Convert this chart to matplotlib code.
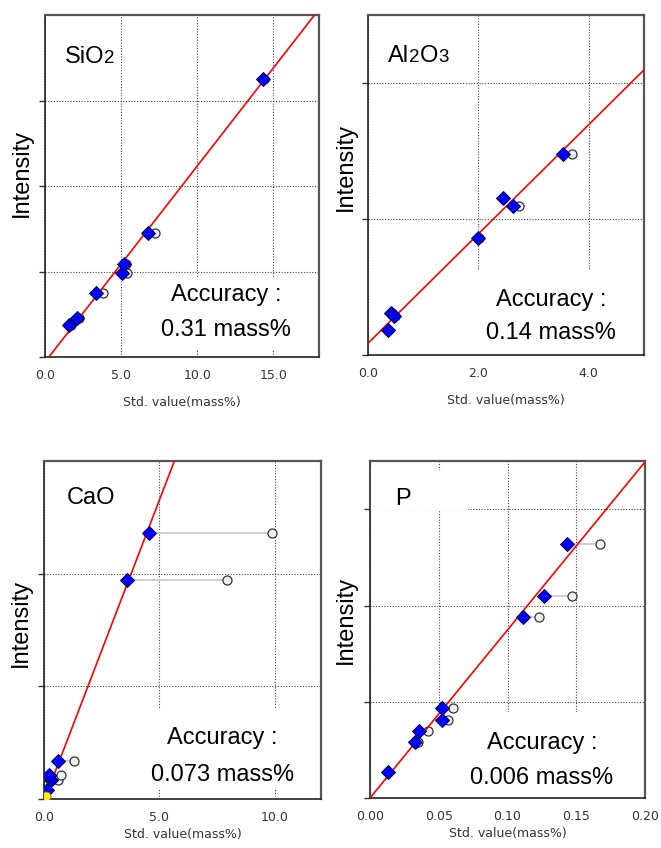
import numpy as np
import matplotlib.pyplot as plt
from matplotlib.patches import Rectangle

plt.rcParams['font.family'] = ['Liberation Sans', 'DejaVu Sans']

# SiO2 calibration
sio2_calc_x = [1.58, 2.10, 3.35, 5.05, 5.19, 6.80, 14.35]
sio2_std_x = [1.73, 2.23, 3.80, 5.40, 5.34, 7.20, 14.42]
sio2_int = [0.371, 0.457, 0.754, 0.984, 1.094, 1.457, 3.254]
sio2_slope, sio2_icpt = 0.2294, -0.0596

# Al2O3 calibration
al_calc_x = [0.365, 0.425, 0.47, 1.99, 2.44, 2.63, 3.54]
al_std_x = [0.37, 0.44, 0.49, 2.02, 2.45, 2.74, 3.69]
al_int = [0.183, 0.305, 0.29, 0.86, 1.154, 1.095, 1.479]
al_slope, al_icpt = 0.402, 0.086

# CaO calibration
cao_calc_x = [0.15, 0.30, 0.22, 0.59, 3.59, 4.56]
cao_std_x = [0.15, 0.62, 0.72, 1.31, 7.92, 9.87]
cao_int = [0.08, 0.17, 0.21, 0.34, 1.947, 2.363]
cao_slope, cao_icpt = 0.534, -0.016
cao_extra = (0.08, 0.03)   # yellow point near origin

# P calibration
p_calc_x = [0.0131, 0.033, 0.0354, 0.0522, 0.0522, 0.111, 0.1262, 0.1434]
p_std_x = [0.0131, 0.035, 0.0422, 0.0568, 0.060, 0.1228, 0.147, 0.1672]
p_int = [0.266, 0.586, 0.70, 0.81, 0.938, 1.886, 2.097, 2.645]
p_slope, p_icpt = 17.47, 0.0

accuracy = ['0.31 mass%', '0.14 mass%', '0.073 mass%', '0.006 mass%']


def chem_label(ax, x, y, parts):
    # formula text with smaller digits sitting on the baseline
    size0 = parts[0][1]
    t = ax.text(x, y, parts[0][0], transform=ax.transAxes, fontsize=size0,
                va='baseline', ha='left', zorder=7)
    prev = size0
    for s, size in parts[1:]:
        t = ax.annotate(s, xy=(1, 0), xycoords=t, xytext=(0, 0.212 * prev),
                        textcoords='offset points', fontsize=size,
                        va='baseline', ha='left', zorder=7)
        prev = size
    return t


def panel(ax, calc_x, std_x, inten, slope, icpt, xlim, ylim, xticks, yticks,
          xfmt, label_parts, label_xy, acc, acc_xy, box, lblbox, ylab_xy, xpad=10):
    ax.set_xlim(*xlim)
    ax.set_ylim(*ylim)
    ax.set_xticks(xticks)
    ax.set_xticklabels([xfmt.format(v) for v in xticks])
    ax.set_yticks(yticks)
    ax.tick_params(axis='x', length=0, pad=8.5, labelsize=9, labelcolor='#333')
    for lab in ax.get_xticklabels():
        lab.set_family('DejaVu Sans')
    ax.tick_params(axis='y', length=4.5, width=1, color='#333', labelleft=False)
    ax.grid(True, linestyle=(0, (1, 1.5)), color='#444', lw=0.8, zorder=0.5)
    ax.set_axisbelow(True)
    for s in ['left', 'bottom']:
        ax.spines[s].set_color('#222')
        ax.spines[s].set_linewidth(1.2)
    for s in ['top', 'right']:
        ax.spines[s].set_color('#555')
        ax.spines[s].set_linewidth(1.6)

    # white boxes behind the texts
    ax.add_patch(Rectangle(box[:2], box[2], box[3], transform=ax.transAxes,
                           facecolor='white', edgecolor='none', zorder=1))
    ax.add_patch(Rectangle(lblbox[:2], lblbox[2], lblbox[3], transform=ax.transAxes,
                           facecolor='white', edgecolor='none', zorder=1))

    for cx, sx, yv in zip(calc_x, std_x, inten):
        ax.plot([cx, sx], [yv, yv], color='#c8c8c8', lw=1.2, zorder=2)
    ax.plot(std_x, inten, 'o', ms=6.5, mfc='#f0f0f0', mec='#333', mew=0.9, zorder=3)
    ax.axline((0, icpt), slope=slope, color='red', lw=1.2, zorder=4)
    ax.plot(calc_x, inten, 'D', ms=7.5, mfc='#0000ff', mec='#000040', mew=0.7, zorder=5)

    ax.set_xlabel('Std. value(mass%)', fontsize=9, color='#333', family='DejaVu Sans',
                  labelpad=xpad)
    ax.set_ylabel('Intensity', fontsize=17)
    ax.yaxis.set_label_coords(*ylab_xy)

    chem_label(ax, label_xy[0], label_xy[1], label_parts)
    ax.text(acc_xy[0], acc_xy[1], 'Accuracy :', transform=ax.transAxes,
            fontsize=17, ha='center', va='center', zorder=7)
    ax.text(acc_xy[0], acc_xy[2], acc, transform=ax.transAxes,
            fontsize=17, ha='center', va='center', zorder=7)


fig = plt.figure(figsize=(6.61, 8.48), dpi=100)
ax1 = fig.add_axes([0.068, 0.579, 0.4145, 0.403])
ax2 = fig.add_axes([0.5567, 0.5814, 0.4176, 0.401])
ax3 = fig.add_axes([0.0666, 0.0578, 0.419, 0.3986])
ax4 = fig.add_axes([0.5598, 0.059, 0.416, 0.397])

panel(ax1, sio2_calc_x, sio2_std_x, sio2_int, sio2_slope, sio2_icpt,
      (0, 18), (0, 4), [0, 5, 10, 15], [0, 1, 2, 3], '{:.1f}',
      [('SiO', 17), ('2', 13.5)], (0.073, 0.86), accuracy[0], (0.66, 0.181, 0.079),
      (0.37, 0.023, 0.61, 0.21), (0.05, 0.83, 0.2, 0.1), (-0.044, 0.54))
panel(ax2, al_calc_x, al_std_x, al_int, al_slope, al_icpt,
      (0, 5), (0, 2.5), [0, 2, 4], [0, 1, 2], '{:.1f}',
      [('Al', 17), ('2', 13.5), ('O', 17), ('3', 13.5)], (0.072, 0.862),
      accuracy[1], (0.663, 0.162, 0.065),
      (0.37, 0.0, 0.62, 0.25), (0.05, 0.83, 0.25, 0.1), (-0.04, 0.553))
panel(ax3, cao_calc_x, cao_std_x, cao_int, cao_slope, cao_icpt,
      (0, 12), (0, 3), [0, 5, 10], [0, 1, 2], '{:.1f}',
      [('CaO', 17)], (0.083, 0.872), accuracy[2], (0.643, 0.18, 0.071),
      (0.35, 0.027, 0.64, 0.243), (0.05, 0.84, 0.25, 0.1), (-0.043, 0.522), xpad=3)
ax3.plot([cao_extra[0]], [cao_extra[1]], 'o', ms=6.5, mfc='#ffee00', mec='#777700',
         mew=0.6, zorder=6)
panel(ax4, p_calc_x, p_std_x, p_int, p_slope, p_icpt,
      (0, 0.2), (0, 3.5), [0, 0.05, 0.10, 0.15, 0.20], [0, 1, 2, 3], '{:.2f}',
      [('P', 17)], (0.09, 0.87), accuracy[3], (0.625, 0.163, 0.059),
      (0.22, 0.0, 0.77, 0.255), (0.0, 0.855, 0.356, 0.118), (-0.047, 0.53), xpad=3)

fig.savefig('out.png', dpi=100)
